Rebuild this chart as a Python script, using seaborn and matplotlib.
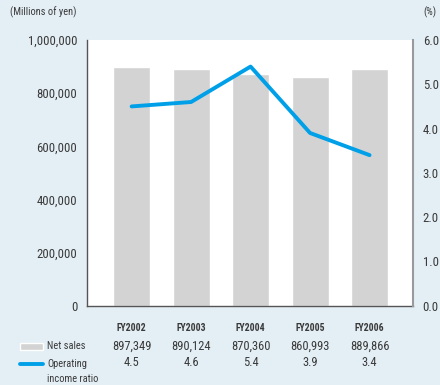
import matplotlib
matplotlib.use("Agg")
import matplotlib.pyplot as plt
import matplotlib.transforms as mtransforms
from matplotlib import font_manager
import seaborn as sns

years = ["FY2002", "FY2003", "FY2004", "FY2005", "FY2006"]
net_sales = [897349, 890124, 870360, 860993, 889866]
op_ratio = [4.5, 4.6, 5.4, 3.9, 3.4]
sales_ticks = [0, 200000, 400000, 600000, 800000, 1000000]
ratio_ticks = [0.0, 1.0, 2.0, 3.0, 4.0, 5.0, 6.0]

BG = "#e3eef5"
BAR = "#d3d3d3"
LINE = "#00a0e9"
TXT = "#3a3a3a"

sns.set_theme(style="white")
installed = {f.name for f in font_manager.fontManager.ttflist}
fam = [f for f in ["Liberation Sans Narrow", "Roboto Condensed", "Liberation Sans"] if f in installed]
plt.rcParams["font.family"] = fam + ["DejaVu Sans"]

fig = plt.figure(figsize=(4.4, 3.85), dpi=100, facecolor=BG)
ax = fig.add_axes([87 / 440, 1 - 305.7 / 385, 326 / 440, 265.7 / 385])
ax.set_facecolor("white")

sns.barplot(x=years, y=net_sales, color=BAR, width=0.62, saturation=1, ax=ax)
ax.set_ylim(0, 1000000)
ax.set_yticks(sales_ticks)
ax.set_yticklabels([f"{v:,}" for v in sales_ticks])
ax.set_xlim(-0.75, 4.73)
ax.set_xticks([])
ax.set_xlabel("")
ax.set_ylabel("")
ax.tick_params(axis="y", length=0, pad=7, labelsize=9.2, labelcolor=TXT)

ax2 = ax.twinx()
sns.lineplot(x=list(range(len(years))), y=op_ratio, color=LINE, linewidth=2.8, ax=ax2)
ax2.set_ylim(0, 6)
ax2.set_yticks(ratio_ticks)
ax2.set_yticklabels([f"{v:.1f}" for v in ratio_ticks])
ax2.set_ylabel("")
ax2.tick_params(axis="y", length=0, pad=7, labelsize=9.2, labelcolor=TXT)
ax.set_xlim(-0.75, 4.73)

for a in (ax, ax2):
    a.spines["top"].set_visible(False)
ax.spines["left"].set_color("#555555")
ax.spines["left"].set_linewidth(1.0)
ax.spines["bottom"].set_color("#555555")
ax.spines["bottom"].set_linewidth(1.0)
ax2.spines["right"].set_color("#9a9a9a")
ax2.spines["right"].set_linewidth(1.5)
ax2.spines["left"].set_visible(False)
ax2.spines["bottom"].set_visible(False)
ax.spines["right"].set_visible(False)

fig.text(10 / 440, 1 - 12 / 385, "(Millions of yen)", fontsize=7.5, color=TXT, va="center", ha="left")
fig.text(423 / 440, 1 - 12 / 385, "(%)", fontsize=7.5, color=TXT, va="center", ha="left")

# table rows under the plot
trans = mtransforms.blended_transform_factory(ax.transData, fig.transFigure)
for i, (yr, s, r) in enumerate(zip(years, net_sales, op_ratio)):
    ax.text(i, 1 - 328 / 385, yr, transform=trans, ha="center", va="center",
            fontsize=7, fontweight="bold", color=TXT)
    ax.text(i, 1 - 346 / 385, f"{s:,}", transform=trans, ha="center", va="center",
            fontsize=9, color=TXT)
    ax.text(i, 1 - 363 / 385, f"{r:.1f}", transform=trans, ha="center", va="center",
            fontsize=9, color=TXT)

# legend keys
fig.patches.append(plt.Rectangle((20 / 440, 1 - 350 / 385), 23 / 440, 7 / 385,
                                 transform=fig.transFigure, facecolor=BAR,
                                 edgecolor="white", linewidth=1))
fig.lines.append(plt.Line2D([20 / 440, 43 / 440], [1 - 364 / 385, 1 - 364 / 385],
                            transform=fig.transFigure, color=LINE, linewidth=2.8))
fig.text(47 / 440, 1 - 346 / 385, "Net sales", fontsize=7.5, color=TXT, va="center")
fig.text(47 / 440, 1 - 364 / 385, "Operating", fontsize=7.5, color=TXT, va="center")
fig.text(47 / 440, 1 - 379 / 385, "income ratio", fontsize=7.5, color=TXT, va="center")

fig.savefig("out.png", dpi=100, facecolor=BG)
